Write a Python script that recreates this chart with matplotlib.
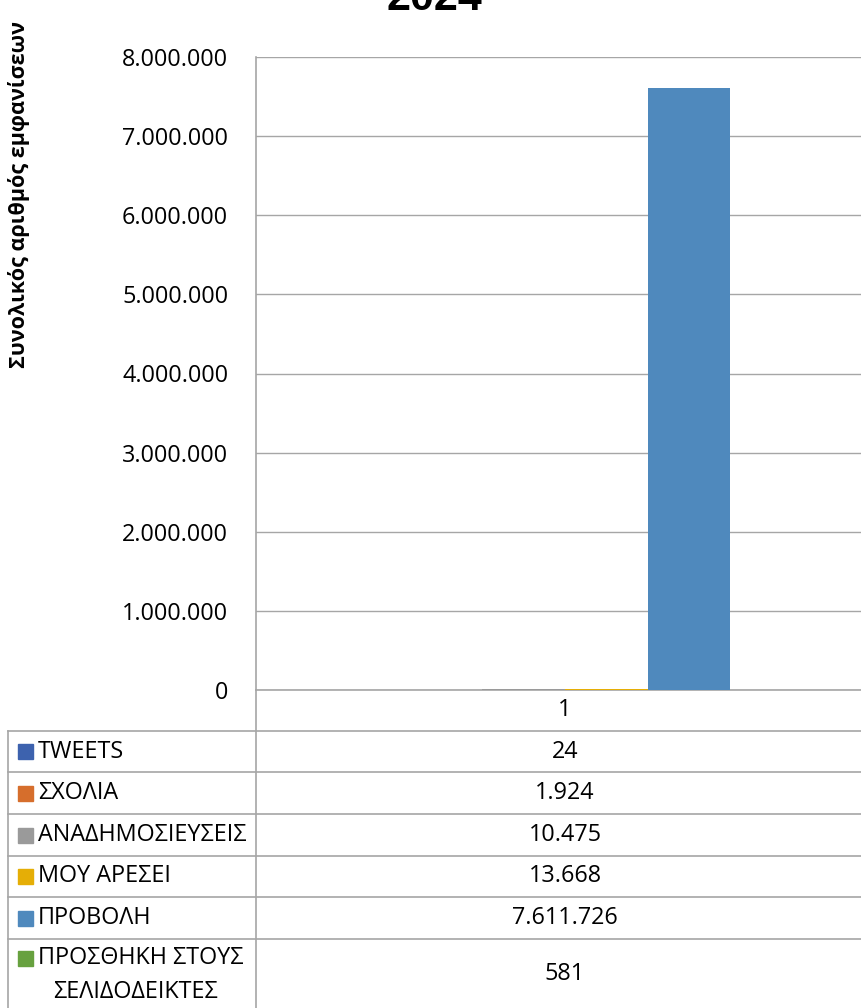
import matplotlib
matplotlib.use("Agg")
import matplotlib.pyplot as plt
from matplotlib.patches import Rectangle

# data
series = ['TWEETS', 'ΣΧΟΛΙΑ', 'ΑΝΑΔΗΜΟΣΙΕΥΣΕΙΣ', 'ΜΟΥ ΑΡΕΣΕΙ', 'ΠΡΟΒΟΛΗ',
          'ΠΡΟΣΘΗΚΗ ΣΤΟΥΣ\nΣΕΛΙΔΟΔΕΙΚΤΕΣ']
values = [24, 1924, 10475, 13668, 7611726, 581]
colors = ['#3D62AE', '#D66E2C', '#9A9A9A', '#E5AE06', '#4F89BD', '#67A13F']
category = '1'
title = '2024'
y_label = 'Συνολικός αριθμός εμφανίσεων'
y_ticks = list(range(0, 8000001, 1000000))

FONT = ['Open Sans', 'DejaVu Sans']
plt.rcParams['font.family'] = FONT
GRID = '#A6A6A6'
NUM_FS = 16.8
LAB_FS = 16.8

W, H = 861, 1008


def fmt(v):
    return f'{v:,}'.replace(',', '.')


fig = plt.figure(figsize=(W / 100, H / 100), dpi=100)

# chart area in pixel terms
ax_left, ax_right, ax_top, ax_bottom = 256, 874, 57, 690
ax = fig.add_axes([ax_left / W, 1 - ax_bottom / H,
                   (ax_right - ax_left) / W, (ax_bottom - ax_top) / H])

n = len(series)
bw = 0.1335
for i, (v, c) in enumerate(zip(values, colors)):
    ax.bar((i - (n - 1) / 2) * bw, v, width=bw, color=c, zorder=3)

ax.set_xlim(-0.5, 0.5)
ax.set_ylim(0, 8000000)
ax.set_yticks(y_ticks)
ax.set_yticklabels([fmt(t) for t in y_ticks], fontsize=NUM_FS)
ax.tick_params(axis='y', length=0, pad=20)
ax.set_xticks([])
ax.grid(axis='y', color=GRID, linewidth=1.0, zorder=0)
for s in ['top', 'right']:
    ax.spines[s].set_visible(False)
for s in ['left', 'bottom']:
    ax.spines[s].set_color(GRID)
    ax.spines[s].set_linewidth(1.2)

fig.text(19 / W, 1 - 194 / H, y_label, rotation=90, ha='center', va='center',
         fontsize=15.5, fontweight='bold')
fig.text(434 / W, 1 - 10 / H, title, ha='center', va='baseline',
         fontsize=31, fontweight='bold', family=['Liberation Sans', 'DejaVu Sans'])

# data table below the chart
tb = fig.add_axes([0, 0, 1, 1], facecolor='none')
tb.set_xlim(0, W)
tb.set_ylim(H, 0)
tb.axis('off')

row_edges = [731, 772, 814, 856, 897, 939, 1008]
col_x = 565
lkw = dict(color=GRID, linewidth=1.2, clip_on=False)
tb.plot([ax_left, ax_left], [ax_bottom, H], **lkw)
tb.plot([8, 8], [row_edges[0], H], **lkw)
for y in row_edges[:-1]:
    tb.plot([8, W], [y, y], **lkw)

tb.text(col_x, (ax_bottom + row_edges[0]) / 2, category, ha='center',
        va='center', fontsize=NUM_FS)

for i, (name, v, c) in enumerate(zip(series, values, colors)):
    y0, y1 = row_edges[i], row_edges[i + 1]
    yc = (y0 + y1) / 2
    tb.text(col_x, yc, fmt(v), ha='center', va='center', fontsize=NUM_FS)
    lines = name.split('\n')
    if len(lines) == 1:
        ly = [yc]
    else:
        ly = [yc - 15, yc + 18]
    tb.add_patch(Rectangle((18, ly[0] - 7.5), 15, 15, color=c))
    tb.text(38, ly[0], lines[0], ha='left', va='center', fontsize=LAB_FS)
    if len(lines) > 1:
        tb.text(135, ly[1], lines[1], ha='center', va='center', fontsize=LAB_FS)

fig.savefig('out.png', dpi=100)
